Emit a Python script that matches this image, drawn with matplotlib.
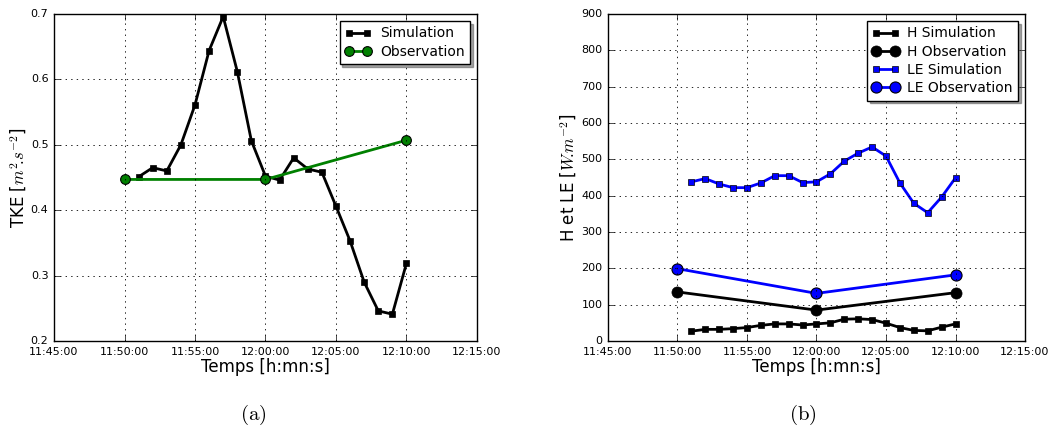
import datetime as dt
import matplotlib
matplotlib.use("Agg")
import matplotlib.pyplot as plt
import matplotlib.dates as mdates

plt.style.use("classic")
plt.rcParams["figure.facecolor"] = "white"
plt.rcParams["savefig.facecolor"] = "white"
plt.rcParams["mathtext.fontset"] = "cm"
plt.rcParams["font.family"] = ["DejaVu Sans"]

# ---- data ----
sim_times = ["11:51:00", "11:52:00", "11:53:00", "11:54:00", "11:55:00", "11:56:00",
             "11:57:00", "11:58:00", "11:59:00", "12:00:00", "12:01:00", "12:02:00",
             "12:03:00", "12:04:00", "12:05:00", "12:06:00", "12:07:00", "12:08:00",
             "12:09:00", "12:10:00"]
obs_times = ["11:50:00", "12:00:00", "12:10:00"]

tke_sim = [0.451, 0.465, 0.460, 0.500, 0.561, 0.644, 0.696, 0.612, 0.506, 0.452,
           0.446, 0.480, 0.463, 0.458, 0.406, 0.353, 0.290, 0.246, 0.241, 0.319]
tke_obs = [0.447, 0.447, 0.507]

h_sim = [27, 32, 32, 34, 37, 43, 47, 47, 44, 47, 50, 60, 61, 59, 49, 37, 29, 28, 38, 47]
h_obs = [135, 85, 133]
le_sim = [438, 447, 432, 422, 422, 435, 455, 455, 436, 438, 460, 495, 517, 534, 509,
          435, 379, 353, 396, 449]
le_obs = [199, 131, 182]

xlim_times = ["11:45:00", "12:15:00"]


def to_dt(lst):
    return [dt.datetime.strptime("2000-01-01 " + s, "%Y-%m-%d %H:%M:%S") for s in lst]


ts = to_dt(sim_times)
to = to_dt(obs_times)
xl = to_dt(xlim_times)

fig = plt.figure(figsize=(10.59, 4.30), dpi=100)
ax1 = fig.add_axes([0.051, 0.207, 0.3994, 0.7605])
ax2 = fig.add_axes([0.5741, 0.207, 0.3938, 0.7605])

ax1.plot(ts, tke_sim, color="k", lw=2, marker="s", ms=4.5, mec="k", label="Simulation")
ax1.plot(to, tke_obs, color="g", lw=2, marker="o", ms=7, mec="k", mew=0.8, label="Observation")
ax1.set_ylim(0.2, 0.7)
ax1.set_ylabel(r"TKE [$m^2\!.\!s^{-2}$]", fontsize=12, labelpad=1.5)

ax2.plot(ts, h_sim, color="k", lw=2, marker="s", ms=4.5, mec="k", label="H Simulation")
ax2.plot(to, h_obs, color="k", lw=2, marker="o", ms=8, mec="k", label="H Observation")
ax2.plot(ts, le_sim, color="b", lw=2, marker="s", ms=4.5, mec="k", label="LE Simulation")
ax2.plot(to, le_obs, color="b", lw=2, marker="o", ms=8, mec="k", mew=0.8, label="LE Observation")
ax2.set_ylim(0, 900)
ax2.set_yticks(range(0, 901, 100))
ax2.set_ylabel(r"H et LE [$W\!.\!m^{-2}$]", fontsize=12, labelpad=1.5)

for ax in (ax1, ax2):
    ax.set_xlim(xl[0], xl[1])
    ax.xaxis.set_major_locator(mdates.MinuteLocator(byminute=range(0, 60, 5)))
    ax.xaxis.set_major_formatter(mdates.DateFormatter("%H:%M:%S"))
    ax.tick_params(labelsize=8, direction="in")
    ax.grid(True, linestyle=":", color="k", lw=0.6)
    ax.set_xlabel("Temps [h:mn:s]", fontsize=12, labelpad=1)
    leg = ax.legend(loc="upper right", fontsize=10, fancybox=False, shadow=True,
                    numpoints=2, handlelength=1.9, handletextpad=0.6,
                    borderaxespad=0.5, labelspacing=0.3)
    leg.get_frame().set_linewidth(1.0)

fig.text(0.239, 0.035, r"$\mathrm{(a)}$", ha="center", va="center", fontsize=15)
fig.text(0.758, 0.035, r"$\mathrm{(b)}$", ha="center", va="center", fontsize=15)

fig.savefig("out.png", dpi=100)
